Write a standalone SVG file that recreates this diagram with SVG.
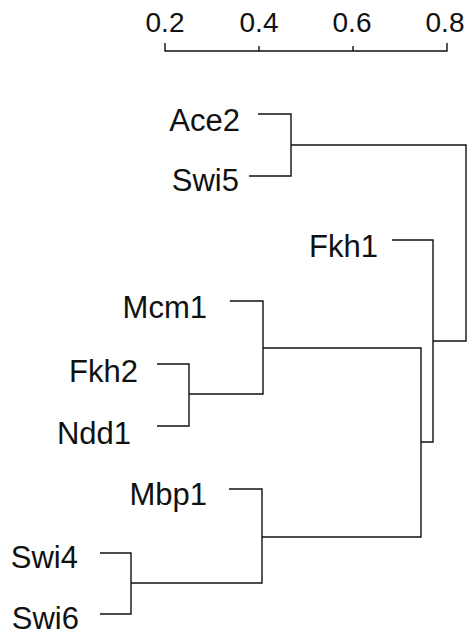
<svg xmlns="http://www.w3.org/2000/svg" width="470" height="635" viewBox="0 0 470 635">
<style>
text{font-family:"Liberation Sans",Arial,sans-serif;fill:#111}
.lbl{font-size:31px;text-anchor:end}
.ax{font-size:28px;text-anchor:middle}
.ln{fill:none;stroke:#111;stroke-width:1.4}
</style>
<rect width="470" height="635" fill="#fff"/>
<g id="axis">
<text class="ax" x="165" y="32">0.2</text>
<text class="ax" x="259" y="32">0.4</text>
<text class="ax" x="352" y="32">0.6</text>
<text class="ax" x="445" y="32">0.8</text>
<path class="ln" d="M165,43V51H447V43M259,51V46M353,51V46"/>
</g>
<g id="node-ace2"><text class="lbl" x="240" y="131">Ace2</text></g>
<g id="node-swi5"><text class="lbl" x="239" y="191">Swi5</text></g>
<g id="node-fkh1"><text class="lbl" x="378" y="257">Fkh1</text></g>
<g id="node-mcm1"><text class="lbl" x="207" y="318">Mcm1</text></g>
<g id="node-fkh2"><text class="lbl" x="138" y="382">Fkh2</text></g>
<g id="node-ndd1"><text class="lbl" x="131" y="444">Ndd1</text></g>
<g id="node-mbp1"><text class="lbl" x="207" y="505">Mbp1</text></g>
<g id="node-swi4"><text class="lbl" x="78" y="568">Swi4</text></g>
<g id="node-swi6"><text class="lbl" x="79" y="629">Swi6</text></g>
<g id="connectors">
<path class="ln" d="M258,114H291V176H249M291,145H466V341H433"/>
<path class="ln" d="M392,240H433V442H421"/>
<path class="ln" d="M230,301H263V394H189M157,364H189V426H157M263,348H421V537H262"/>
<path class="ln" d="M229,489H262V583H131M100,553H131V614H100"/>
</g>
</svg>
